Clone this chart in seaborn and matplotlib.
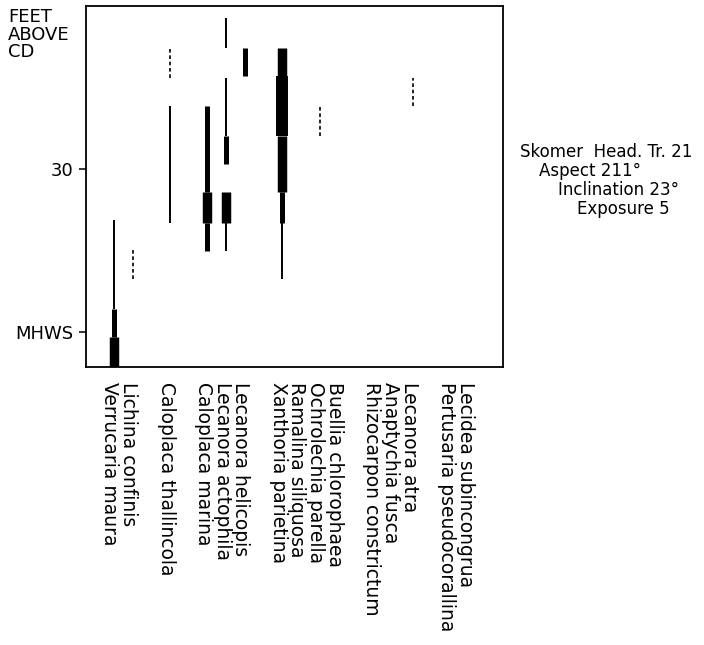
import pandas as pd
import matplotlib.pyplot as plt
from matplotlib.transforms import ScaledTranslation
import seaborn as sns

# especies na ordem do eixo x e a posicao (slot) de cada coluna
especies = ["Verrucaria maura", "Lichina confinis", "Caloplaca thallincola",
            "Caloplaca marina", "Lecanora actophila", "Lecanora helicopis",
            "Xanthoria parietina", "Ramalina siliquosa", "Ochrolechia parella",
            "Buellia chlorophaea", "Rhizocarpon constrictum", "Anaptychia fusca",
            "Lecanora atra", "Pertusaria pseudocorallina", "Lecidea subincongrua"]
slots = [0, 1, 3, 5, 6, 7, 9, 10, 11, 12, 14, 15, 16, 18, 19]

# segmentos: especie, altura inferior e superior (pes acima de CD), tipo de faixa
seg_especie = ["Verrucaria maura", "Verrucaria maura", "Verrucaria maura",
               "Lichina confinis",
               "Caloplaca thallincola", "Caloplaca thallincola",
               "Caloplaca marina", "Caloplaca marina", "Caloplaca marina",
               "Lecanora actophila", "Lecanora actophila", "Lecanora actophila",
               "Lecanora actophila", "Lecanora actophila",
               "Lecanora helicopis",
               "Xanthoria parietina", "Xanthoria parietina", "Xanthoria parietina",
               "Xanthoria parietina", "Xanthoria parietina",
               "Ochrolechia parella",
               "Lecanora atra"]
seg_baixo = [24.0, 22.8, 21.3,
             25.3,
             33.9, 27.7,
             29.0, 27.7, 26.5,
             35.2, 31.4, 30.2, 27.7, 26.5,
             34.0,
             34.0, 31.4, 29.0, 27.7, 25.3,
             31.4,
             32.7]
seg_alto = [27.8, 24.0, 22.8,
            26.6,
            35.2, 32.7,
            32.7, 29.0, 27.7,
            36.5, 33.9, 31.4, 29.0, 27.7,
            35.2,
            35.2, 34.0, 31.4, 29.0, 27.7,
            32.7,
            33.9]
seg_faixa = ["fina", "media", "grossa",
             "tracejada",
             "tracejada", "fina",
             "media", "grossa", "media",
             "fina", "fina", "media", "grossa", "fina",
             "media",
             "grossa", "muito grossa", "grossa", "media", "fina",
             "tracejada",
             "tracejada"]

larguras = {"tracejada": 1.2, "fina": 1.4, "media": 3.6, "grossa": 6.8, "muito grossa": 8.6}
tracos = {"tracejada": (2.2, 1.6), "fina": "", "media": "", "grossa": "", "muito grossa": ""}

linhas = []
for i, (sp, lo, hi, fx) in enumerate(zip(seg_especie, seg_baixo, seg_alto, seg_faixa)):
    x = slots[especies.index(sp)]
    linhas.append({"seg": i, "x": x, "pes": lo, "faixa": fx})
    linhas.append({"seg": i, "x": x, "pes": hi, "faixa": fx})
dados = pd.DataFrame(linhas)

sns.set_style("ticks")
plt.rcParams["font.family"] = ["DejaVu Sans"]
plt.rcParams["text.color"] = "black"
plt.rcParams["xtick.color"] = "black"
plt.rcParams["ytick.color"] = "black"

fig = plt.figure(figsize=(7.04, 6.45), dpi=100)
ax = fig.add_axes([0.122, 0.431, 0.5925, 0.5597])

sns.lineplot(data=dados, x="x", y="pes", units="seg", estimator=None, sort=False,
             size="faixa", sizes=larguras, style="faixa", dashes=tracos,
             color="black", legend=False, ax=ax,
             solid_capstyle="butt", dash_capstyle="butt")

ax.set_xlim(-1.5, 20.8)
ax.set_ylim(21.5, 37.0)
ax.set_xlabel("")
ax.set_ylabel("")

ax.set_xticks(slots)
ax.set_xticklabels(especies, rotation=-90, ha="center", va="top", fontsize=13.5)
ax.tick_params(axis="x", length=0, pad=11)
for lab in ax.get_xticklabels():
    lab.set_transform(lab.get_transform() + ScaledTranslation(-0.04, 0, fig.dpi_scale_trans))

ax.set_yticks([30, 23])
ax.set_yticklabels(["30", "MHWS"], fontsize=13)
ax.tick_params(axis="y", length=5, width=1.1, pad=4, color="black", labelcolor="black")

for s in ax.spines.values():
    s.set_visible(True)
    s.set_linewidth(1.3)
    s.set_color("black")

fig.text(8 / 704, 1 - 8 / 645, "FEET\nABOVE\nCD", ha="left", va="top",
         fontsize=13, linespacing=0.98)

anotacoes = ["Skomer  Head. Tr. 21", "Aspect 211°", "Inclination 23°", "Exposure 5"]
xs = [520, 539, 558, 577]
for k, (t, xp) in enumerate(zip(anotacoes, xs)):
    fig.text(xp / 704, 1 - (152 + 19 * k) / 645, t, ha="left", va="center", fontsize=12)

fig.savefig("out.png", dpi=100)
